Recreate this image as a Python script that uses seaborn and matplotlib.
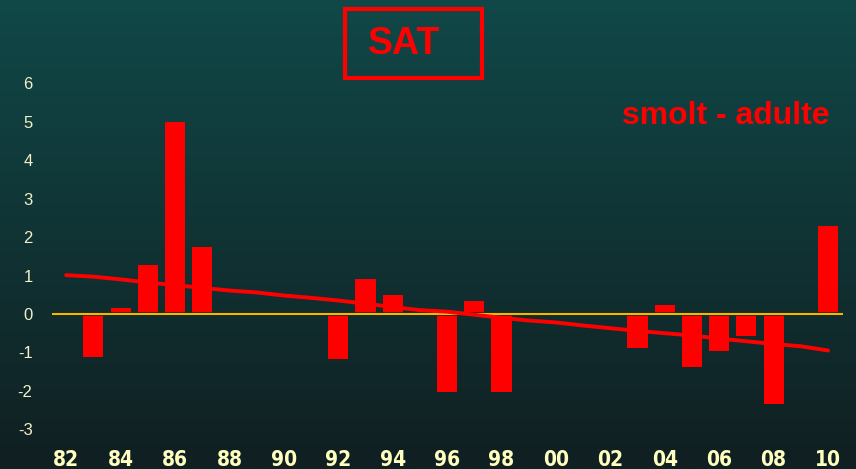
import numpy as np
import pandas as pd
import matplotlib
matplotlib.use("Agg")
import matplotlib.pyplot as plt
import seaborn as sns
from matplotlib.patches import Rectangle

# années 1982-2010
years = ['82', '83', '84', '85', '86', '87', '88', '89', '90', '91', '92', '93', '94', '95',
         '96', '97', '98', '99', '00', '01', '02', '03', '04', '05', '06', '07', '08', '09', '10']
# écart smolt - adulte (années sans barre = NaN)
values = [np.nan, -1.13, 0.15, 1.27, 5.0, 1.74, np.nan, np.nan, np.nan, np.nan, -1.17, 0.92, 0.50,
          np.nan, -2.02, 0.34, -2.02, np.nan, np.nan, np.nan, np.nan, -0.88, 0.24, -1.37, -0.97,
          -0.56, -2.35, np.nan, 2.29]
# tendance
trend = [1.01, 0.97, 0.90, 0.82, 0.75, 0.68, 0.61, 0.56, 0.48, 0.42, 0.35, 0.27, 0.18, 0.10,
         0.06, -0.02, -0.10, -0.17, -0.22, -0.30, -0.37, -0.44, -0.50, -0.56, -0.64, -0.71,
         -0.78, -0.84, -0.95]
yticks = [-3, -2, -1, 0, 1, 2, 3, 4, 5, 6]

df = pd.DataFrame({'annee': years, 'valeur': values, 'tendance': trend, 'pos': range(len(years))})
bars = df.dropna(subset=['valeur'])

sns.set_style('dark')
plt.rcParams['font.family'] = ['Liberation Sans', 'DejaVu Sans']

fig = plt.figure(figsize=(8.56, 4.69), dpi=100)

# fond dégradé
bg = fig.add_axes([0, 0, 1, 1], zorder=0)
grad = np.linspace(0, 1, 256)[:, None]
top = np.array([16, 72, 72]) / 255
bot = np.array([17, 31, 33]) / 255
img = top[None, None, :] * (1 - grad[:, :, None]) + bot[None, None, :] * grad[:, :, None]
bg.imshow(img, aspect='auto', extent=[0, 1, 0, 1])
bg.set_axis_off()

ax = fig.add_axes([52 / 856, 0.060, (843 - 52) / 856, 0.787], zorder=1)
ax.patch.set_alpha(0)

sns.barplot(data=bars, x='annee', y='valeur', order=years, color='#ff0000',
            saturation=1, width=0.74, linewidth=0, edgecolor='none', ax=ax, zorder=2)
ax.axhline(0, color='#2a2a10', lw=2.6, zorder=3)
ax.axhline(0, color='#ffcc00', lw=1.3, zorder=3)
sns.lineplot(data=df, x='pos', y='tendance', color='#ff0000', lw=2.8, ax=ax, zorder=4)

ax.set_xlim(-0.52, 28.55)
ax.set_ylim(-3.3, 6.3)
ax.set_yticks(yticks)
ax.set_yticklabels([str(t) for t in yticks], color='#f4f0c8', fontsize=12)
ax.set_xticks(range(len(years)))
ax.set_xticklabels([y if i % 2 == 0 else '' for i, y in enumerate(years)],
                   color='#ffffc0', fontsize=15, fontweight='bold',
                   family=['DejaVu Sans'], fontstretch='condensed')
ax.tick_params(axis='y', length=0, pad=14)
ax.tick_params(axis='x', length=0, pad=6.5)
ax.set_xlabel('')
ax.set_ylabel('')
ax.grid(False)
for s in ax.spines.values():
    s.set_visible(False)

# titre encadré
fig.patches.append(Rectangle((345 / 856, 1 - 78 / 469), 137 / 856, 69 / 469,
                             transform=fig.transFigure, fill=False, ec='#ff0000', lw=3, zorder=5))
fig.text(404 / 856, 1 - 44 / 469, 'SAT', color='#ff0000', fontsize=27, fontweight='bold',
         ha='center', va='center', zorder=6)
fig.text(726 / 856, 1 - 116 / 469, 'smolt - adulte', color='#ff0000', fontsize=23,
         fontweight='bold', ha='center', va='center', zorder=6)

fig.savefig('out.png', dpi=100)
